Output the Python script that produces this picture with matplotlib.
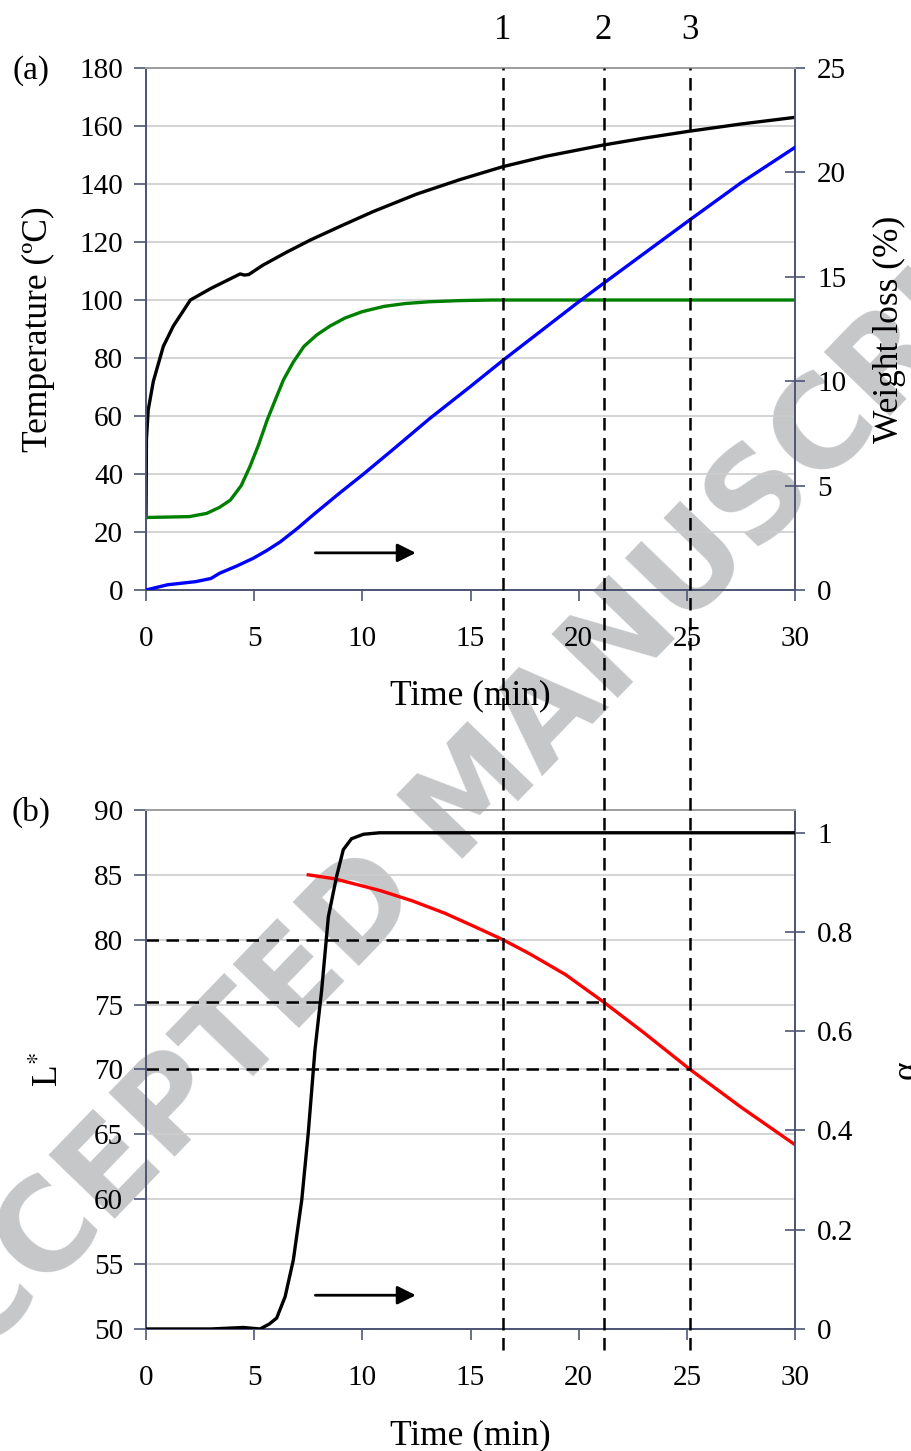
import numpy as np
import matplotlib
matplotlib.use("Agg")
import matplotlib.pyplot as plt
from matplotlib.transforms import blended_transform_factory

plt.rcParams['font.family'] = ['Liberation Serif', 'DejaVu Serif']
plt.rcParams['mathtext.fontset'] = 'stix'
plt.rcParams['font.size'] = 21

# (a) temperatures (left axis) and weight loss (right axis)
temp_t = [0, 0.02, 0.1, 0.34, 0.8, 1.26, 1.7, 2.05, 3.0, 4.35, 4.55, 4.75, 5.4, 6.5,
          7.6, 9.0, 10.5, 12.5, 14.5, 16.5, 18.5, 21.1, 23, 25.1, 27.5, 30]
temp_v = [25, 52, 62, 72, 84, 91, 96, 100, 104, 109, 108.6, 108.8, 112, 116.5,
          120.7, 125.5, 130.5, 136.5, 141.5, 146, 149.6, 153.4, 155.8, 158.2, 160.7, 163]

green_t = [0, 2.0, 2.8, 3.4, 3.9, 4.4, 4.8, 5.2, 5.6, 6.0, 6.35, 6.8, 7.3, 7.9,
           8.5, 9.2, 10.0, 11.0, 12.0, 13.1, 14.5, 16, 30]
green_v = [25, 25.3, 26.4, 28.5, 31, 36, 42.5, 50, 58.6, 66, 72.4, 78.5, 84, 88,
           91, 93.8, 96, 97.8, 98.8, 99.4, 99.8, 100, 100]

blue_t = [0, 1.0, 2.3, 3.0, 3.4, 4.2, 4.96, 5.6, 6.2, 7.0, 7.73, 8.9, 10.05, 11.5,
          13.1, 15, 16.5, 18.5, 20, 21.1, 23, 25.1, 27.5, 30]
blue_v = [0, 0.25, 0.4, 0.55, 0.8, 1.15, 1.52, 1.9, 2.3, 2.95, 3.6, 4.6, 5.55, 6.8,
          8.2, 9.75, 11.0, 12.6, 13.8, 14.65, 16.1, 17.7, 19.5, 21.2]

# (b) alpha (right axis) and L* (left axis)
alpha_t = [0, 3, 4.5, 5.27, 5.7, 6.04, 6.43, 6.81, 7.2, 7.5, 7.81, 8.12, 8.43,
           8.81, 9.12, 9.5, 10.05, 10.8, 30]
alpha_v = [0, 0, 0.003, 0, 0.01, 0.022, 0.065, 0.139, 0.26, 0.395, 0.5625, 0.683,
           0.831, 0.912, 0.966, 0.988, 0.997, 1.0, 1.0]

red_t = [7.5, 8.7, 10.8, 12.3, 13.8, 15.2, 16.5, 17.75, 19.4, 21.15, 23, 25.15, 27.5, 30]
red_v = [85.0, 84.7, 83.8, 83.0, 82.05, 81.0, 80.0, 78.9, 77.3, 75.2, 72.85, 70.0, 67.1, 64.2]

# marked times 1,2,3 and L* at those times
mark_labels = ["1", "2", "3"]
mark_t = [16.5, 21.15, 25.15]
mark_L = [80, 75.2, 70]

x_ticks = [0, 5, 10, 15, 20, 25, 30]
spine_col = "#4f5675"
grid_col = "#cdcdcd"
dash = (0, (5, 3))
lab_size = 25.5

fig = plt.figure(figsize=(9.12, 14.51), dpi=100)
ax1 = fig.add_axes([0.1601, 0.5934, 0.7116, 0.3597])
ax2 = fig.add_axes([0.1601, 0.0841, 0.7116, 0.3577])


def style_axes(ax, axr):
    ax.set_facecolor('none')
    axr.set_facecolor('none')
    ax.set_xlim(0, 30)
    ax.set_xticks(x_ticks)
    ax.grid(axis='y', color=grid_col, lw=1.2)
    ax.set_axisbelow(True)
    for a in (ax, axr):
        for s in ['left', 'right', 'bottom']:
            a.spines[s].set_color(spine_col)
            a.spines[s].set_linewidth(1.3)
        a.spines['top'].set_color("#a0a0a0")
        a.spines['top'].set_linewidth(1.4)
    ax.tick_params(axis='y', direction='out', length=8.5, width=1.2, color=spine_col, pad=8)
    ax.tick_params(axis='x', direction='out', length=8, width=1.2, color=spine_col, pad=18)
    axr.tick_params(axis='y', direction='inout', length=14, width=1.2, color=spine_col, pad=9)


# ---------- panel (a)
ax1r = ax1.twinx()
style_axes(ax1, ax1r)
ax1.set_ylim(0, 180)
ax1.set_yticks(range(0, 181, 20))
ax1r.set_ylim(0, 25)
ax1r.set_yticks(range(0, 26, 5))

ax1.plot(temp_t, temp_v, color='black', lw=2.4, zorder=5)
ax1.plot(green_t, green_v, color='#008000', lw=2.4, zorder=5)
ax1r.plot(blue_t, blue_v, color='#0000ff', lw=2.4, zorder=5)
ax1.annotate("", xy=(12.6, 12.8), xytext=(7.7, 12.8),
             arrowprops=dict(arrowstyle='-|>', color='black', lw=2, mutation_scale=28))

ax1.set_xlabel("Time (min)", fontsize=lab_size)
ax1.xaxis.set_label_coords(0.5, -0.172)
ax1.set_ylabel("Temperature (ºC)", fontsize=lab_size)
ax1.yaxis.set_label_coords(-0.141, 0.5)
ax1r.set_ylabel("Weight loss (%)", rotation=90, fontsize=lab_size)
ax1r.yaxis.set_label_coords(1.12, 0.5)

# ---------- panel (b)
ax2r = ax2.twinx()
style_axes(ax2, ax2r)
ax2.set_ylim(50, 90)
ax2.set_yticks(range(50, 91, 5))
ax2r.set_ylim(0, 1.046)
ax2r.set_yticks([0, 0.2, 0.4, 0.6, 0.8, 1])
ax2r.set_yticklabels(["0", "0.2", "0.4", "0.6", "0.8", "1"])

ax2r.plot(alpha_t, alpha_v, color='black', lw=2.4, zorder=5)
ax2.plot(red_t, red_v, color='#ff0000', lw=2.4, zorder=5)
for t, L in zip(mark_t, mark_L):
    ax2.plot([0, t], [L, L], color='black', lw=1.8, ls=dash, zorder=6)
ax2.annotate("", xy=(12.6, 52.6), xytext=(7.7, 52.6),
             arrowprops=dict(arrowstyle='-|>', color='black', lw=2, mutation_scale=28))

ax2.set_xlabel("Time (min)", fontsize=lab_size)
ax2.xaxis.set_label_coords(0.5, -0.175)
ax2.set_ylabel(r"L$^{*}$", fontsize=lab_size)
ax2.yaxis.set_label_coords(-0.123, 0.5)
ax2r.set_ylabel("α", rotation=90, fontsize=lab_size)
ax2r.yaxis.set_label_coords(1.148, 0.5)

# vertical dashed lines through both panels
tr = blended_transform_factory(ax2.transData, fig.transFigure)
for lab, t in zip(mark_labels, mark_t):
    fig.add_artist(plt.Line2D([t, t], [0.0696, 0.9531], transform=tr, color='black',
                              lw=1.8, ls=dash, zorder=6))
    fig.text(t, 0.979, lab, transform=tr, ha='center', va='center', fontsize=25)

fig.text(0.034, 0.951, "(a)", ha='center', va='center', fontsize=24)
fig.text(0.034, 0.4404, "(b)", ha='center', va='center', fontsize=24)

# watermark
fig.text(0.53, 0.458, "ACCEPTED MANUSCRIPT", ha='center', va='center', rotation=46,
         fontsize=91, fontweight='bold', family='DejaVu Sans', color='#c6c7c9',
         zorder=-1)

fig.savefig("out.png", dpi=100)
